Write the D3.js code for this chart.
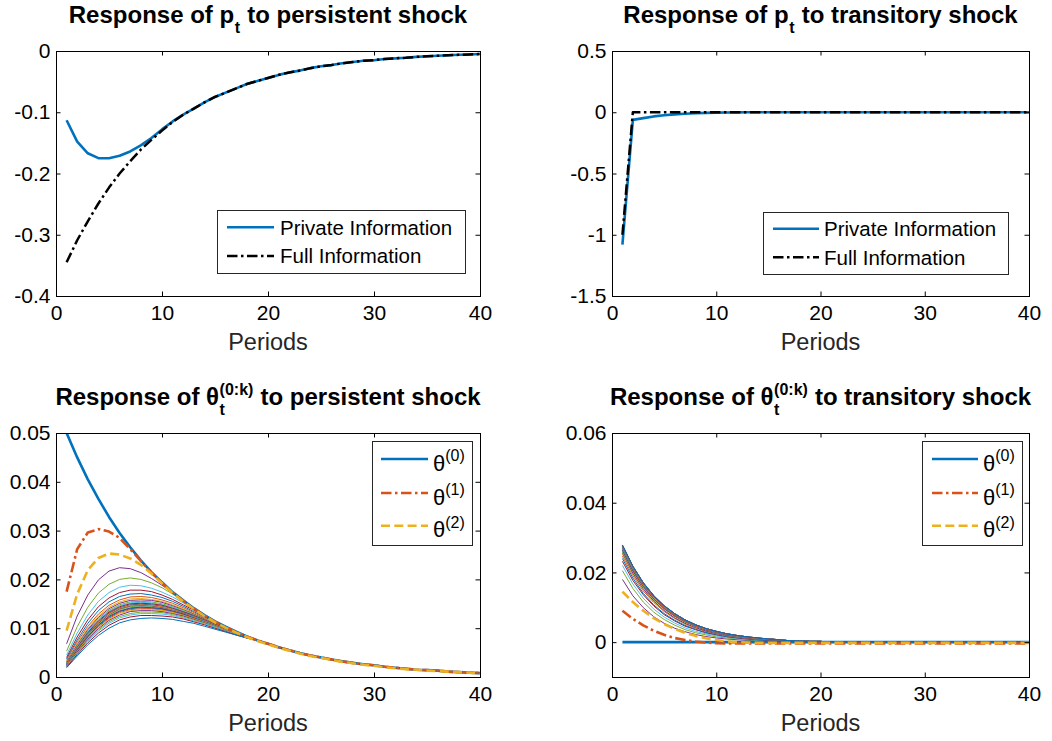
<!DOCTYPE html>
<html>
<head>
<meta charset="utf-8">
<script src="https://cdn.jsdelivr.net/npm/d3@7"></script>
<style>
  body { margin: 0; background: #fff; }
  svg text { font-family: Arial, "Liberation Sans", sans-serif; }
</style>
</head>
<body>
<script>
// ---------- data ----------
var periods = [1,2,3,4,5,6,7,8,9,10,11,12,13,14,15,16,17,18,19,20,
               21,22,23,24,25,26,27,28,29,30,31,32,33,34,35,36,37,38,39,40];

var xTicks = [0, 10, 20, 30, 40];
var yTicksPricePersistent = [-0.4, -0.3, -0.2, -0.1, 0];
var yTicksPriceTransitory = [-1.5, -1, -0.5, 0, 0.5];
var yTicksThetaPersistent = [0, 0.01, 0.02, 0.03, 0.04, 0.05];
var yTicksThetaTransitory = [0, 0.02, 0.04, 0.06];

// response of p_t to persistent shock
var pricePrivatePersistent = [-0.113, -0.148, -0.167, -0.175, -0.175, -0.171, -0.164, -0.154, -0.142, -0.128,
  -0.115, -0.104, -0.094, -0.084, -0.075, -0.068, -0.061, -0.054, -0.049, -0.044,
  -0.039, -0.035, -0.032, -0.028, -0.025, -0.023, -0.020, -0.018, -0.016, -0.015,
  -0.013, -0.012, -0.011, -0.0096, -0.0086, -0.0077, -0.0069, -0.0062, -0.0056, -0.0050];
var priceFullPersistent = [-0.345, -0.309, -0.278, -0.249, -0.223, -0.200, -0.180, -0.161, -0.145, -0.130,
  -0.116, -0.104, -0.094, -0.084, -0.075, -0.068, -0.061, -0.054, -0.049, -0.044,
  -0.039, -0.035, -0.032, -0.028, -0.025, -0.023, -0.020, -0.018, -0.016, -0.015,
  -0.013, -0.012, -0.011, -0.0096, -0.0086, -0.0077, -0.0069, -0.0062, -0.0056, -0.0050];

// response of p_t to transitory shock
var pricePrivateTransitory = [-1.08, -0.062, -0.048, -0.034, -0.024, -0.017, -0.012, -0.008, -0.005, -0.003,
  -0.002, -0.001, 0, 0, 0, 0, 0, 0, 0, 0,
  0, 0, 0, 0, 0, 0, 0, 0, 0, 0,
  0, 0, 0, 0, 0, 0, 0, 0, 0, 0];
var priceFullTransitory = [-1.0, 0, 0, 0, 0, 0, 0, 0, 0, 0,
  0, 0, 0, 0, 0, 0, 0, 0, 0, 0,
  0, 0, 0, 0, 0, 0, 0, 0, 0, 0,
  0, 0, 0, 0, 0, 0, 0, 0, 0, 0];

// response of theta^(k) to persistent shock
var theta0Persistent = [0.0500, 0.0450, 0.0405, 0.0365, 0.0328, 0.0295, 0.0266, 0.0239, 0.0215, 0.0194,
  0.0174, 0.0157, 0.0141, 0.0127, 0.0114, 0.0103, 0.0093, 0.0083, 0.0075, 0.0068,
  0.0061, 0.0055, 0.0049, 0.0044, 0.0040, 0.0036, 0.0032, 0.0029, 0.0026, 0.0024,
  0.0021, 0.0019, 0.0017, 0.0015, 0.0014, 0.0013, 0.0011, 0.0010, 0.0009, 0.0008];
var theta1Persistent = [0.0175, 0.0262, 0.0296, 0.0303, 0.0298, 0.0285, 0.0262, 0.0238, 0.0214, 0.0193,
  0.0173, 0.0156, 0.0140, 0.0126, 0.0113, 0.0102, 0.0092, 0.0083, 0.0075, 0.0068,
  0.0061, 0.0055, 0.0049, 0.0044, 0.0040, 0.0036, 0.0032, 0.0029, 0.0026, 0.0024,
  0.0021, 0.0019, 0.0017, 0.0015, 0.0014, 0.0013, 0.0011, 0.0010, 0.0009, 0.0008];
var theta2Persistent = [0.0095, 0.0170, 0.0219, 0.0244, 0.0253, 0.0251, 0.0243, 0.0230, 0.0212, 0.0192,
  0.0172, 0.0155, 0.0139, 0.0125, 0.0112, 0.0101, 0.0091, 0.0082, 0.0074, 0.0067,
  0.0060, 0.0054, 0.0048, 0.0043, 0.0039, 0.0035, 0.0031, 0.0028, 0.0025, 0.0023,
  0.0020, 0.0018, 0.0016, 0.0015, 0.0013, 0.0012, 0.0011, 0.0010, 0.0009, 0.0007];
// higher orders k = 3..28, periods 1..18 (they share the tail below from period 19)
var thetaHigherPersistent = [
  [0.0068, 0.0125, 0.0168, 0.0199, 0.0217, 0.0224, 0.0222, 0.0214, 0.0202, 0.0188, 0.0173, 0.0157, 0.0141, 0.0127, 0.0114, 0.0103, 0.0093, 0.0083],
  [0.0053, 0.0103, 0.0143, 0.0172, 0.0190, 0.0200, 0.0203, 0.0200, 0.0193, 0.0183, 0.0170, 0.0156, 0.0141, 0.0127, 0.0114, 0.0103, 0.0093, 0.0083],
  [0.0045, 0.0090, 0.0127, 0.0155, 0.0173, 0.0184, 0.0188, 0.0187, 0.0182, 0.0174, 0.0164, 0.0152, 0.0139, 0.0126, 0.0114, 0.0103, 0.0093, 0.0083],
  [0.0040, 0.0082, 0.0117, 0.0144, 0.0162, 0.0173, 0.0178, 0.0178, 0.0175, 0.0168, 0.0159, 0.0148, 0.0137, 0.0125, 0.0113, 0.0102, 0.0092, 0.0083],
  [0.0037, 0.0076, 0.0110, 0.0136, 0.0154, 0.0165, 0.0170, 0.0171, 0.0168, 0.0163, 0.0155, 0.0145, 0.0134, 0.0123, 0.0112, 0.0102, 0.0092, 0.0083],
  [0.0034, 0.0072, 0.0104, 0.0129, 0.0147, 0.0158, 0.0164, 0.0165, 0.0163, 0.0158, 0.0151, 0.0142, 0.0132, 0.0121, 0.0111, 0.0101, 0.0092, 0.0083],
  [0.0032, 0.0069, 0.0100, 0.0125, 0.0143, 0.0154, 0.0160, 0.0161, 0.0159, 0.0155, 0.0148, 0.0140, 0.0130, 0.0120, 0.0110, 0.0100, 0.0091, 0.0082],
  [0.0031, 0.0066, 0.0097, 0.0122, 0.0140, 0.0151, 0.0157, 0.0158, 0.0157, 0.0153, 0.0146, 0.0138, 0.0129, 0.0119, 0.0109, 0.0100, 0.0091, 0.0082],
  [0.0030, 0.0064, 0.0095, 0.0119, 0.0137, 0.0148, 0.0154, 0.0155, 0.0154, 0.0150, 0.0144, 0.0137, 0.0128, 0.0118, 0.0109, 0.0099, 0.0090, 0.0082],
  [0.0029, 0.0063, 0.0093, 0.0117, 0.0135, 0.0146, 0.0152, 0.0153, 0.0152, 0.0148, 0.0143, 0.0135, 0.0127, 0.0117, 0.0108, 0.0099, 0.0090, 0.0082],
  [0.0028, 0.0061, 0.0091, 0.0115, 0.0133, 0.0144, 0.0150, 0.0151, 0.0150, 0.0147, 0.0141, 0.0134, 0.0126, 0.0117, 0.0108, 0.0099, 0.0090, 0.0082],
  [0.0027, 0.0060, 0.0089, 0.0113, 0.0131, 0.0142, 0.0148, 0.0149, 0.0148, 0.0145, 0.0140, 0.0133, 0.0125, 0.0116, 0.0107, 0.0098, 0.0090, 0.0082],
  [0.0027, 0.0059, 0.0088, 0.0112, 0.0130, 0.0141, 0.0147, 0.0148, 0.0147, 0.0144, 0.0139, 0.0132, 0.0124, 0.0116, 0.0107, 0.0098, 0.0090, 0.0082],
  [0.0026, 0.0058, 0.0087, 0.0111, 0.0128, 0.0140, 0.0146, 0.0147, 0.0146, 0.0143, 0.0138, 0.0131, 0.0123, 0.0115, 0.0106, 0.0098, 0.0089, 0.0082],
  [0.0026, 0.0057, 0.0086, 0.0110, 0.0127, 0.0139, 0.0145, 0.0146, 0.0145, 0.0142, 0.0137, 0.0131, 0.0123, 0.0115, 0.0106, 0.0097, 0.0089, 0.0081],
  [0.0025, 0.0056, 0.0085, 0.0108, 0.0126, 0.0138, 0.0144, 0.0145, 0.0144, 0.0141, 0.0136, 0.0130, 0.0122, 0.0114, 0.0106, 0.0097, 0.0089, 0.0081],
  [0.0025, 0.0055, 0.0084, 0.0107, 0.0125, 0.0136, 0.0142, 0.0144, 0.0143, 0.0140, 0.0136, 0.0129, 0.0122, 0.0114, 0.0105, 0.0097, 0.0089, 0.0081],
  [0.0024, 0.0055, 0.0083, 0.0106, 0.0124, 0.0135, 0.0141, 0.0143, 0.0142, 0.0140, 0.0135, 0.0129, 0.0121, 0.0113, 0.0105, 0.0097, 0.0089, 0.0081],
  [0.0024, 0.0054, 0.0082, 0.0105, 0.0122, 0.0134, 0.0140, 0.0142, 0.0141, 0.0139, 0.0134, 0.0128, 0.0121, 0.0113, 0.0105, 0.0096, 0.0088, 0.0081],
  [0.0023, 0.0053, 0.0080, 0.0103, 0.0120, 0.0132, 0.0138, 0.0140, 0.0140, 0.0137, 0.0133, 0.0127, 0.0120, 0.0112, 0.0104, 0.0096, 0.0088, 0.0081],
  [0.0023, 0.0052, 0.0079, 0.0101, 0.0118, 0.0130, 0.0136, 0.0138, 0.0138, 0.0136, 0.0132, 0.0126, 0.0119, 0.0112, 0.0104, 0.0096, 0.0088, 0.0081],
  [0.0022, 0.0051, 0.0077, 0.0099, 0.0116, 0.0127, 0.0134, 0.0136, 0.0136, 0.0134, 0.0130, 0.0125, 0.0118, 0.0111, 0.0103, 0.0095, 0.0088, 0.0080],
  [0.0022, 0.0049, 0.0075, 0.0096, 0.0113, 0.0124, 0.0130, 0.0133, 0.0133, 0.0132, 0.0128, 0.0123, 0.0117, 0.0110, 0.0103, 0.0095, 0.0087, 0.0080],
  [0.0021, 0.0048, 0.0073, 0.0094, 0.0110, 0.0121, 0.0127, 0.0130, 0.0130, 0.0129, 0.0126, 0.0121, 0.0115, 0.0109, 0.0102, 0.0094, 0.0087, 0.0080],
  [0.0020, 0.0046, 0.0070, 0.0090, 0.0106, 0.0117, 0.0123, 0.0126, 0.0126, 0.0125, 0.0123, 0.0119, 0.0113, 0.0107, 0.0100, 0.0093, 0.0086, 0.0080],
  [0.0019, 0.0043, 0.0066, 0.0085, 0.0100, 0.0111, 0.0117, 0.0120, 0.0121, 0.0120, 0.0118, 0.0114, 0.0110, 0.0104, 0.0098, 0.0092, 0.0086, 0.0080]
];
var persistentTail = [0.0075, 0.0068, 0.0061, 0.0055, 0.0049, 0.0044, 0.0040, 0.0036, 0.0032, 0.0029, 0.0026,
  0.0024, 0.0021, 0.0019, 0.0017, 0.0015, 0.0014, 0.0013, 0.0011, 0.0010, 0.0009, 0.0008];

// response of theta^(k) to transitory shock
var theta0Transitory = [0, 0, 0, 0, 0, 0, 0, 0, 0, 0,
  0, 0, 0, 0, 0, 0, 0, 0, 0, 0,
  0, 0, 0, 0, 0, 0, 0, 0, 0, 0,
  0, 0, 0, 0, 0, 0, 0, 0, 0, 0];
var theta1Transitory = [0.0090, 0.0067, 0.0048, 0.0033, 0.0021, 0.0012, 0.0006, 0.0002, -0.0001, -0.0003,
  -0.0004, -0.0004, -0.0004, -0.0004, -0.0004, -0.0004, -0.0004, -0.0004, -0.0004, -0.0004,
  -0.0004, -0.0004, -0.0004, -0.0004, -0.0004, -0.0004, -0.0004, -0.0004, -0.0004, -0.0004,
  -0.0004, -0.0004, -0.0004, -0.0004, -0.0004, -0.0004, -0.0004, -0.0004, -0.0004, -0.0004];
var theta2Transitory = [0.0145, 0.0115, 0.0090, 0.0069, 0.0052, 0.0038, 0.0027, 0.0018, 0.0011, 0.0006,
  0.0002, 0.0000, -0.0001, -0.0002, -0.0002, -0.0002, -0.0002, -0.0002, -0.0002, -0.0002,
  -0.0002, -0.0002, -0.0002, -0.0002, -0.0002, -0.0002, -0.0002, -0.0002, -0.0002, -0.0002,
  -0.0002, -0.0002, -0.0002, -0.0002, -0.0002, -0.0002, -0.0002, -0.0002, -0.0002, -0.0002];
// higher orders k = 3..28, periods 1..16 (shared tail from period 17)
var thetaHigherTransitory = [
  [0.0180, 0.0133, 0.0099, 0.0073, 0.0054, 0.0040, 0.0030, 0.0022, 0.0016, 0.0012, 0.0009, 0.0007, 0.0005, 0.0004, 0.0003, 0.0002],
  [0.0205, 0.0154, 0.0115, 0.0086, 0.0065, 0.0049, 0.0036, 0.0027, 0.0021, 0.0015, 0.0012, 0.0009, 0.0006, 0.0005, 0.0004, 0.0003],
  [0.0220, 0.0167, 0.0126, 0.0095, 0.0072, 0.0055, 0.0041, 0.0031, 0.0024, 0.0018, 0.0014, 0.0010, 0.0008, 0.0006, 0.0004, 0.0003],
  [0.0232, 0.0177, 0.0136, 0.0104, 0.0079, 0.0061, 0.0046, 0.0036, 0.0027, 0.0021, 0.0016, 0.0012, 0.0009, 0.0007, 0.0005, 0.0004],
  [0.0240, 0.0184, 0.0140, 0.0107, 0.0082, 0.0063, 0.0048, 0.0037, 0.0028, 0.0022, 0.0016, 0.0013, 0.0010, 0.0007, 0.0006, 0.0004],
  [0.0247, 0.0191, 0.0147, 0.0114, 0.0088, 0.0068, 0.0052, 0.0040, 0.0031, 0.0024, 0.0019, 0.0014, 0.0011, 0.0009, 0.0007, 0.0005],
  [0.0252, 0.0195, 0.0150, 0.0116, 0.0090, 0.0069, 0.0053, 0.0041, 0.0032, 0.0025, 0.0019, 0.0015, 0.0011, 0.0009, 0.0007, 0.0005],
  [0.0256, 0.0198, 0.0153, 0.0118, 0.0091, 0.0070, 0.0054, 0.0042, 0.0032, 0.0025, 0.0019, 0.0015, 0.0011, 0.0009, 0.0007, 0.0005],
  [0.0259, 0.0202, 0.0157, 0.0122, 0.0095, 0.0074, 0.0057, 0.0045, 0.0035, 0.0027, 0.0021, 0.0016, 0.0013, 0.0010, 0.0008, 0.0006],
  [0.0262, 0.0204, 0.0159, 0.0123, 0.0096, 0.0075, 0.0058, 0.0045, 0.0035, 0.0027, 0.0021, 0.0017, 0.0013, 0.0010, 0.0008, 0.0006],
  [0.0264, 0.0205, 0.0160, 0.0124, 0.0097, 0.0075, 0.0059, 0.0046, 0.0035, 0.0028, 0.0021, 0.0017, 0.0013, 0.0010, 0.0008, 0.0006],
  [0.0266, 0.0207, 0.0161, 0.0125, 0.0097, 0.0076, 0.0059, 0.0046, 0.0036, 0.0028, 0.0022, 0.0017, 0.0013, 0.0010, 0.0008, 0.0006],
  [0.0268, 0.0209, 0.0162, 0.0126, 0.0098, 0.0076, 0.0059, 0.0046, 0.0036, 0.0028, 0.0022, 0.0017, 0.0013, 0.0010, 0.0008, 0.0006],
  [0.0269, 0.0211, 0.0165, 0.0129, 0.0101, 0.0079, 0.0062, 0.0049, 0.0038, 0.0030, 0.0023, 0.0018, 0.0014, 0.0011, 0.0009, 0.0007],
  [0.0270, 0.0211, 0.0166, 0.0130, 0.0101, 0.0079, 0.0062, 0.0049, 0.0038, 0.0030, 0.0023, 0.0018, 0.0014, 0.0011, 0.0009, 0.0007],
  [0.0271, 0.0212, 0.0166, 0.0130, 0.0102, 0.0080, 0.0062, 0.0049, 0.0038, 0.0030, 0.0023, 0.0018, 0.0014, 0.0011, 0.0009, 0.0007],
  [0.0272, 0.0213, 0.0167, 0.0131, 0.0102, 0.0080, 0.0063, 0.0049, 0.0038, 0.0030, 0.0024, 0.0018, 0.0014, 0.0011, 0.0009, 0.0007],
  [0.0273, 0.0214, 0.0167, 0.0131, 0.0103, 0.0080, 0.0063, 0.0049, 0.0039, 0.0030, 0.0024, 0.0019, 0.0014, 0.0011, 0.0009, 0.0007],
  [0.0274, 0.0215, 0.0168, 0.0132, 0.0103, 0.0081, 0.0063, 0.0049, 0.0039, 0.0030, 0.0024, 0.0019, 0.0015, 0.0011, 0.0009, 0.0007],
  [0.0275, 0.0215, 0.0169, 0.0132, 0.0103, 0.0081, 0.0063, 0.0050, 0.0039, 0.0030, 0.0024, 0.0019, 0.0015, 0.0011, 0.0009, 0.0007],
  [0.0276, 0.0216, 0.0169, 0.0133, 0.0104, 0.0081, 0.0064, 0.0050, 0.0039, 0.0031, 0.0024, 0.0019, 0.0015, 0.0011, 0.0009, 0.0007],
  [0.0277, 0.0217, 0.0170, 0.0133, 0.0104, 0.0082, 0.0064, 0.0050, 0.0039, 0.0031, 0.0024, 0.0019, 0.0015, 0.0012, 0.0009, 0.0007],
  [0.0277, 0.0217, 0.0170, 0.0133, 0.0104, 0.0082, 0.0064, 0.0050, 0.0039, 0.0031, 0.0024, 0.0019, 0.0015, 0.0012, 0.0009, 0.0007],
  [0.0278, 0.0218, 0.0170, 0.0133, 0.0104, 0.0082, 0.0064, 0.0050, 0.0039, 0.0031, 0.0024, 0.0019, 0.0015, 0.0012, 0.0009, 0.0007],
  [0.0278, 0.0218, 0.0170, 0.0133, 0.0104, 0.0082, 0.0064, 0.0050, 0.0039, 0.0031, 0.0024, 0.0019, 0.0015, 0.0012, 0.0009, 0.0007],
  [0.0279, 0.0218, 0.0171, 0.0134, 0.0105, 0.0082, 0.0064, 0.0050, 0.0039, 0.0031, 0.0024, 0.0019, 0.0015, 0.0012, 0.0009, 0.0007]
];
var transitoryTail = [0.0004, 0.0003, 0.0002, 0.0002, 0.0001, 0.0001, 0.0001, 0.0001, 0.0001, 0.0001, 0.0001, 0.0001,
  0.0001, 0.0001, 0.0001, 0.0001, 0.0001, 0.0001, 0.0001, 0.0001, 0.0001, 0.0001, 0.0001, 0.0001];

// matlab default line colours
var matlabColors = ["#0072BD", "#D95319", "#EDB120", "#7E2F8E", "#77AC30", "#4DBEEE", "#A2142F"];
var dashDot = "10.5,3.5,2.5,3.5";
var dashed = "9,4.3";

// ---------- drawing ----------
var svg = d3.select("body").append("svg")
    .attr("width", 1052)
    .attr("height", 741);

svg.append("rect").attr("width", 1052).attr("height", 741).attr("fill", "#fff");

var defs = svg.append("defs");

// title with a math subscript / superscript stacked after "before"
function mathTitle(cx, y, before, sub, sup, after) {
  var t = svg.append("g")
      .attr("font-weight", "bold")
      .attr("fill", "#000");
  var a = t.append("text").attr("x", 0).attr("y", y)
      .style("font-size", "24px").style("white-space", "pre").text(before);
  var w1 = a.node().getComputedTextLength();
  var w2 = 0;
  if (sub) {
    var s = t.append("text").attr("x", w1 + 0.5).attr("y", y + 10)
        .style("font-size", "16px").text(sub);
    w2 = Math.max(w2, s.node().getComputedTextLength());
  }
  if (sup) {
    var p = t.append("text").attr("x", w1 + 0.5).attr("y", y - 10.5)
        .style("font-size", "16px").text(sup);
    w2 = Math.max(w2, p.node().getComputedTextLength());
  }
  var c = t.append("text").attr("x", w1 + w2 + 1).attr("y", y)
      .style("font-size", "24px").style("white-space", "pre").text(after);
  var total = w1 + w2 + 1 + c.node().getComputedTextLength();
  t.attr("transform", "translate(" + (cx - total / 2) + ",0)");
}

function drawPanel(cfg) {
  var x = d3.scaleLinear().domain([0, 40]).range([cfg.left, cfg.right]);
  var y = d3.scaleLinear().domain(cfg.yDomain).range([cfg.bottom, cfg.top]);

  defs.append("clipPath").attr("id", "clip-" + cfg.id)
    .append("rect")
      .attr("x", cfg.left).attr("y", cfg.top)
      .attr("width", cfg.right - cfg.left).attr("height", cfg.bottom - cfg.top);

  var line = d3.line()
      .x((d, i) => x(periods[i]))
      .y(d => y(d));

  // lines
  var plot = svg.append("g").attr("clip-path", "url(#clip-" + cfg.id + ")");
  cfg.series.forEach(function(s) {
    plot.append("path")
        .datum(s.values)
        .attr("d", line)
        .attr("fill", "none")
        .attr("stroke", s.color)
        .attr("stroke-width", s.width)
        .attr("stroke-dasharray", s.dash || null)
        .attr("stroke-linejoin", "round");
  });

  // axes, ticks pointing inwards on all four sides
  var axes = svg.append("g").style("color", "#000");

  axes.append("g").attr("transform", "translate(0," + cfg.bottom + ")")
      .call(d3.axisBottom(x).tickValues(xTicks).tickSize(-4.5).tickPadding(9.5).tickFormat(d => String(d)));
  axes.append("g").attr("transform", "translate(0," + cfg.top + ")")
      .call(d3.axisTop(x).tickValues(xTicks).tickSize(-4.5).tickFormat(""));
  axes.append("g").attr("transform", "translate(" + cfg.left + ",0)")
      .call(d3.axisLeft(y).tickValues(cfg.yTicks).tickSize(-4.5).tickPadding(5.5).tickFormat(d => String(d)));
  axes.append("g").attr("transform", "translate(" + cfg.right + ",0)")
      .call(d3.axisRight(y).tickValues(cfg.yTicks).tickSize(-4.5).tickFormat(""));
  axes.selectAll(".domain").remove();
  axes.selectAll(".tick text")
      .attr("fill", "#000")
      .style("font-family", "Arial, 'Liberation Sans', sans-serif")
      .style("font-size", "21px");

  axes.append("rect")
      .attr("x", cfg.left + 0.5).attr("y", cfg.top + 0.5)
      .attr("width", cfg.right - cfg.left).attr("height", cfg.bottom - cfg.top)
      .attr("fill", "none").attr("stroke", "#000").attr("stroke-width", 1);

  // x label
  svg.append("text")
      .attr("x", (cfg.left + cfg.right) / 2)
      .attr("y", cfg.bottom + 53.5)
      .attr("text-anchor", "middle")
      .style("font-size", "23.5px")
      .attr("fill", "#262626")
      .text("Periods");

  // title
  var tt = cfg.title;
  mathTitle((cfg.left + cfg.right) / 2, tt.y, tt.before, tt.sub, tt.sup, tt.after);

  // legend
  var lg = cfg.legend;
  var leg = svg.append("g");
  leg.append("rect")
      .attr("x", lg.x + 0.5).attr("y", lg.y + 0.5)
      .attr("width", lg.w).attr("height", lg.h)
      .attr("fill", "#fff").attr("stroke", "#262626").attr("stroke-width", 1);
  lg.items.forEach(function(it, i) {
    var s = cfg.series[it.series];
    var ly = lg.rows[i];
    leg.append("line")
        .attr("x1", lg.lineX1).attr("x2", lg.lineX2)
        .attr("y1", ly).attr("y2", ly)
        .attr("stroke", s.color)
        .attr("stroke-width", s.width)
        .attr("stroke-dasharray", s.dash || null);
    var tx = leg.append("text")
        .attr("x", lg.textX)
        .attr("fill", "#000");
    if (it.sup) {
      tx.attr("y", ly + 11.5).style("font-size", "22px").text(it.label);
      tx.append("tspan").attr("dy", -9.5).style("font-size", "16px").text(it.sup);
    } else {
      tx.attr("y", ly).attr("dy", "0.36em").style("font-size", "20.5px").text(it.label);
    }
  });
}

// build the theta series lists (thin higher-order lines first, then theta 0..2 on top)
function thetaSeries(higher, tail, t0, t1, t2) {
  var thin = higher.map(function(h, i) {
    return {values: h.concat(tail), color: matlabColors[(i + 3) % 7], width: 1};
  });
  return thin.concat([
    {values: t0, color: matlabColors[0], width: 2.6},
    {values: t1, color: matlabColors[1], width: 2.6, dash: dashDot},
    {values: t2, color: matlabColors[2], width: 2.6, dash: dashed}
  ]);
}

var seriesBL = thetaSeries(thetaHigherPersistent, persistentTail, theta0Persistent, theta1Persistent, theta2Persistent);
var seriesBR = thetaSeries(thetaHigherTransitory, transitoryTail, theta0Transitory, theta1Transitory, theta2Transitory);
var nThin = thetaHigherPersistent.length;

drawPanel({
  id: "tl", left: 56, right: 480, top: 51, bottom: 296,
  yDomain: [-0.4, 0], yTicks: yTicksPricePersistent,
  title: {y: 23, before: "Response of p", sub: "t", after: " to persistent shock"},
  series: [
    {values: pricePrivatePersistent, color: "#0072BD", width: 2.6},
    {values: priceFullPersistent, color: "#000", width: 2.5, dash: dashDot}
  ],
  legend: {x: 217, y: 210, w: 248, h: 63, rows: [227.3, 256], lineX1: 227, lineX2: 274, textX: 280,
    items: [{series: 0, label: "Private Information"}, {series: 1, label: "Full Information"}]}
});

drawPanel({
  id: "tr", left: 612, right: 1029, top: 51, bottom: 296,
  yDomain: [-1.5, 0.5], yTicks: yTicksPriceTransitory,
  title: {y: 23, before: "Response of p", sub: "t", after: " to transitory shock"},
  series: [
    {values: pricePrivateTransitory, color: "#0072BD", width: 2.6},
    {values: priceFullTransitory, color: "#000", width: 2.5, dash: dashDot}
  ],
  legend: {x: 763, y: 212, w: 245, h: 62, rows: [228.7, 257.3], lineX1: 773, lineX2: 819, textX: 824,
    items: [{series: 0, label: "Private Information"}, {series: 1, label: "Full Information"}]}
});

drawPanel({
  id: "bl", left: 56, right: 480, top: 433, bottom: 677,
  yDomain: [0, 0.05], yTicks: yTicksThetaPersistent,
  title: {y: 405, before: "Response of \u03B8", sub: "t", sup: "(0:k)", after: " to persistent shock"},
  series: seriesBL,
  legend: {x: 372, y: 441, w: 100, h: 104, rows: [459, 493, 525.7], lineX1: 381, lineX2: 428, textX: 433,
    items: [{series: nThin, label: "\u03B8", sup: "(0)"},
            {series: nThin + 1, label: "\u03B8", sup: "(1)"},
            {series: nThin + 2, label: "\u03B8", sup: "(2)"}]}
});

drawPanel({
  id: "br", left: 612, right: 1029, top: 433, bottom: 677,
  yDomain: [-0.01, 0.06], yTicks: yTicksThetaTransitory,
  title: {y: 405, before: "Response of \u03B8", sub: "t", sup: "(0:k)", after: " to transitory shock"},
  series: seriesBR,
  legend: {x: 922, y: 441, w: 100, h: 104, rows: [459, 493, 525.7], lineX1: 932, lineX2: 978, textX: 983,
    items: [{series: nThin, label: "\u03B8", sup: "(0)"},
            {series: nThin + 1, label: "\u03B8", sup: "(1)"},
            {series: nThin + 2, label: "\u03B8", sup: "(2)"}]}
});
</script>
</body>
</html>
